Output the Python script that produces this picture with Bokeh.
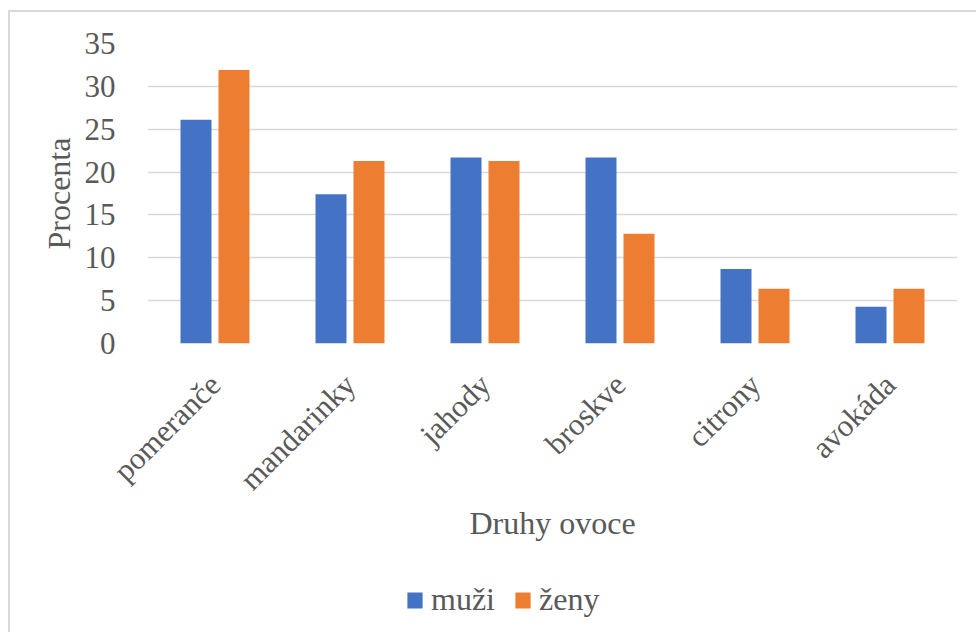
from bokeh.plotting import figure
from bokeh.layouts import column
from bokeh.models import (ColumnDataSource, FactorRange, Range1d, Legend, LegendItem,
                          SingleIntervalTicker)
from bokeh.transform import dodge
from bokeh.embed import file_html
from bokeh.resources import INLINE

categories = ["pomeranče", "mandarinky", "jahody", "broskve", "citrony", "avokáda"]
muzi = [26.1, 17.4, 21.7, 21.7, 8.7, 4.3]
zeny = [31.9, 21.3, 21.3, 12.8, 6.4, 6.4]
series_names = ["muži", "ženy"]
x_title = "Druhy ovoce"
y_title = "Procenta"

FONT = "Liberation Serif"
TEXT = "#595959"
BLUE = "#4472C4"
ORANGE = "#ED7D31"
GRID = "#D9D9D9"

source = ColumnDataSource(dict(cat=categories, muzi=muzi, zeny=zeny))
x_range = FactorRange(*categories, range_padding=0)

p = figure(
    x_range=x_range,
    y_range=Range1d(0, 35),
    width=966, height=560,
    output_backend="svg", toolbar_location=None,
    min_border_left=137, min_border_right=19,
    min_border_top=31, min_border_bottom=229,
)
p.title.visible = False
p.outline_line_color = None
p.background_fill_color = "white"
p.border_fill_color = "white"

r1 = p.vbar(x=dodge("cat", -0.1407, range=x_range), top="muzi", width=0.2296,
            source=source, fill_color=BLUE, line_color=None)
r2 = p.vbar(x=dodge("cat", 0.1407, range=x_range), top="zeny", width=0.2296,
            source=source, fill_color=ORANGE, line_color=None)

# grid
p.xgrid.grid_line_color = None
p.ygrid.grid_line_color = GRID
p.ygrid.grid_line_width = 1.5

# y axis
p.yaxis.ticker = SingleIntervalTicker(interval=5)
p.yaxis.axis_line_color = None
p.yaxis.major_tick_line_color = None
p.yaxis.minor_tick_line_color = None
p.yaxis.major_tick_out = 0
p.yaxis.major_tick_in = 0
p.yaxis.major_label_standoff = 28
p.yaxis.major_label_text_font = FONT
p.yaxis.major_label_text_font_size = "31px"
p.yaxis.major_label_text_color = TEXT
p.yaxis.axis_label = y_title
p.yaxis.axis_label_text_font = FONT
p.yaxis.axis_label_text_font_size = "32px"
p.yaxis.axis_label_text_font_style = "normal"
p.yaxis.axis_label_text_color = TEXT
p.yaxis.axis_label_standoff = 5

# x axis
p.xaxis.axis_line_color = None
p.xaxis.major_tick_line_color = None
p.xaxis.minor_tick_line_color = None
p.xaxis.major_tick_out = 0
p.xaxis.major_tick_in = 0
p.xaxis.major_label_orientation = 0.7854
p.xaxis.major_label_standoff = 36
p.xaxis.major_label_text_font = FONT
p.xaxis.major_label_text_font_size = "31px"
p.xaxis.major_label_text_color = TEXT
p.xaxis.axis_label = x_title
p.xaxis.axis_label_text_font = FONT
p.xaxis.axis_label_text_font_size = "32px"
p.xaxis.axis_label_text_font_style = "normal"
p.xaxis.axis_label_text_color = TEXT
p.xaxis.axis_label_standoff = -7

# legend strip below the chart (keeps the legend outside the clipped plot frame);
# its series renderers only provide the legend swatches (zero width, off-range)
pl = figure(
    width=966, height=60, x_range=x_range, y_range=Range1d(-20, -10),
    output_backend="svg", toolbar_location=None,
    x_axis_location=None, y_axis_location=None, min_border=0,
)
pl.title.visible = False
pl.outline_line_color = None
pl.grid.visible = False
pl.background_fill_color = "white"
pl.border_fill_color = "white"
k1 = pl.vbar(x=dodge("cat", -0.1407, range=x_range), top="muzi", width=0,
             source=source, fill_color=BLUE, line_color=None)
k2 = pl.vbar(x=dodge("cat", 0.1407, range=x_range), top="zeny", width=0,
             source=source, fill_color=ORANGE, line_color=None)

legend = Legend(
    items=[LegendItem(label=series_names[0], renderers=[k1]),
           LegendItem(label=series_names[1], renderers=[k2])],
    location=(258, 14), orientation="horizontal",
    glyph_width=19, glyph_height=20, label_standoff=7, spacing=18,
    padding=0, margin=0, border_line_color=None, background_fill_alpha=0,
    label_text_font=FONT, label_text_font_size="32px", label_text_color=TEXT,
)
pl.add_layout(legend)

layout = column(p, pl, spacing=0,
                styles={"border-top": "2px solid #D9D9D9", "border-left": "2px solid #D9D9D9",
                        "margin-top": "10px", "margin-left": "8px"})

open("out.html", "w").write(file_html(layout, INLINE))
